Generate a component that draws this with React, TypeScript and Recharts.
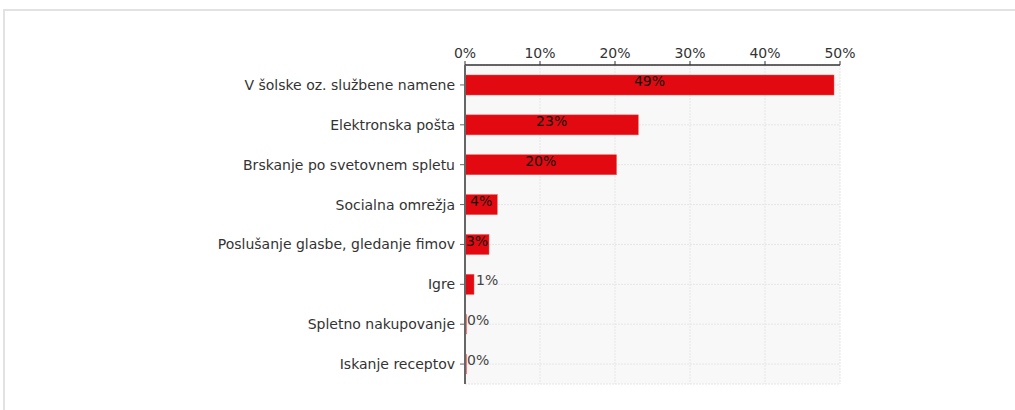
import React from "react";
import { BarChart, Bar, XAxis, YAxis, CartesianGrid, LabelList } from "recharts";

const categories = [
  "V šolske oz. službene namene",
  "Elektronska pošta",
  "Brskanje po svetovnem spletu",
  "Socialna omrežja",
  "Poslušanje glasbe, gledanje fimov",
  "Igre",
  "Spletno nakupovanje",
  "Iskanje receptov",
];
const values = [49.2, 23.1, 20.2, 4.3, 3.2, 1.2, 0, 0];
const valueLabels = ["49%", "23%", "20%", "4%", "3%", "1%", "0%", "0%"];
const xTicks = [0, 10, 20, 30, 40, 50];

const data = categories.map((name, i) => ({ name, value: values[i], label: valueLabels[i] }));

const FONT = "'DejaVu Sans', Verdana, sans-serif";
const FS = 14;

const BarShape = (props: any) => {
  const { x, y, width, height } = props;
  if (!width || width < 1) {
    return <rect x={x} y={y} width={2} height={height} fill="#f47c7c" />;
  }
  return <rect x={x} y={y} width={width} height={height} fill="#e20a10" stroke="#f05050" strokeWidth={0.5} />;
};

const ValueLabel = (props: any) => {
  const { x, y, width, height, value } = props;
  const text = String(value);
  const approx = text.length * 8;
  const inside = width >= approx;
  const tx = inside ? x + width / 2 : x + Math.max(width, 0) + 2;
  return (
    <text
      x={tx}
      y={y + height / 2 - 4}
      dominantBaseline="central"
      textAnchor={inside ? "middle" : "start"}
      fontFamily={FONT}
      fontSize={FS}
      fill={inside ? "#111" : "#444"}
    >
      {text}
    </text>
  );
};

export default function App() {
  return (
    <div style={{ position: "absolute", left: 0, top: 0, width: 1015, height: 410, background: "#fff" }}>
      <div
        style={{
          position: "absolute",
          left: 3,
          top: 9,
          width: 1100,
          height: 500,
          borderTop: "2px solid #e2e2e2",
          borderLeft: "2px solid #e2e2e2",
        }}
      />
      <div style={{ position: "absolute", left: 0, top: 0 }}>
        <BarChart
          width={1015}
          height={410}
          data={data}
          layout="vertical"
          margin={{ top: 35, right: 175, bottom: 26, left: 0 }}
          barCategoryGap={10}
        >
          <CartesianGrid
            fill="#f8f8f8"
            stroke="#e6e6e6"
            horizontal={true}
            vertical={true}
            strokeDasharray="2 1"
          />
          <XAxis
            type="number"
            orientation="top"
            domain={[0, 50]}
            ticks={xTicks}
            tickFormatter={(v: number) => `${v}%`}
            axisLine={{ stroke: "#333", strokeWidth: 1.5 }}
            tickLine={{ stroke: "#333" }}
            tickSize={4}
            tickMargin={3}
            tick={{ fontFamily: FONT, fontSize: FS, fill: "#333" }}
            interval={0}
          />
          <YAxis
            type="category"
            dataKey="name"
            width={465}
            axisLine={{ stroke: "#666", strokeWidth: 2 }}
            tickLine={{ stroke: "#666" }}
            tickSize={5}
            tickMargin={5}
            tick={{ fontFamily: FONT, fontSize: FS, fill: "#333" }}
            interval={0}
          />
          <Bar dataKey="value" isAnimationActive={false} shape={<BarShape />}>
            <LabelList dataKey="label" content={<ValueLabel />} />
          </Bar>
        </BarChart>
      </div>
    </div>
  );
}
